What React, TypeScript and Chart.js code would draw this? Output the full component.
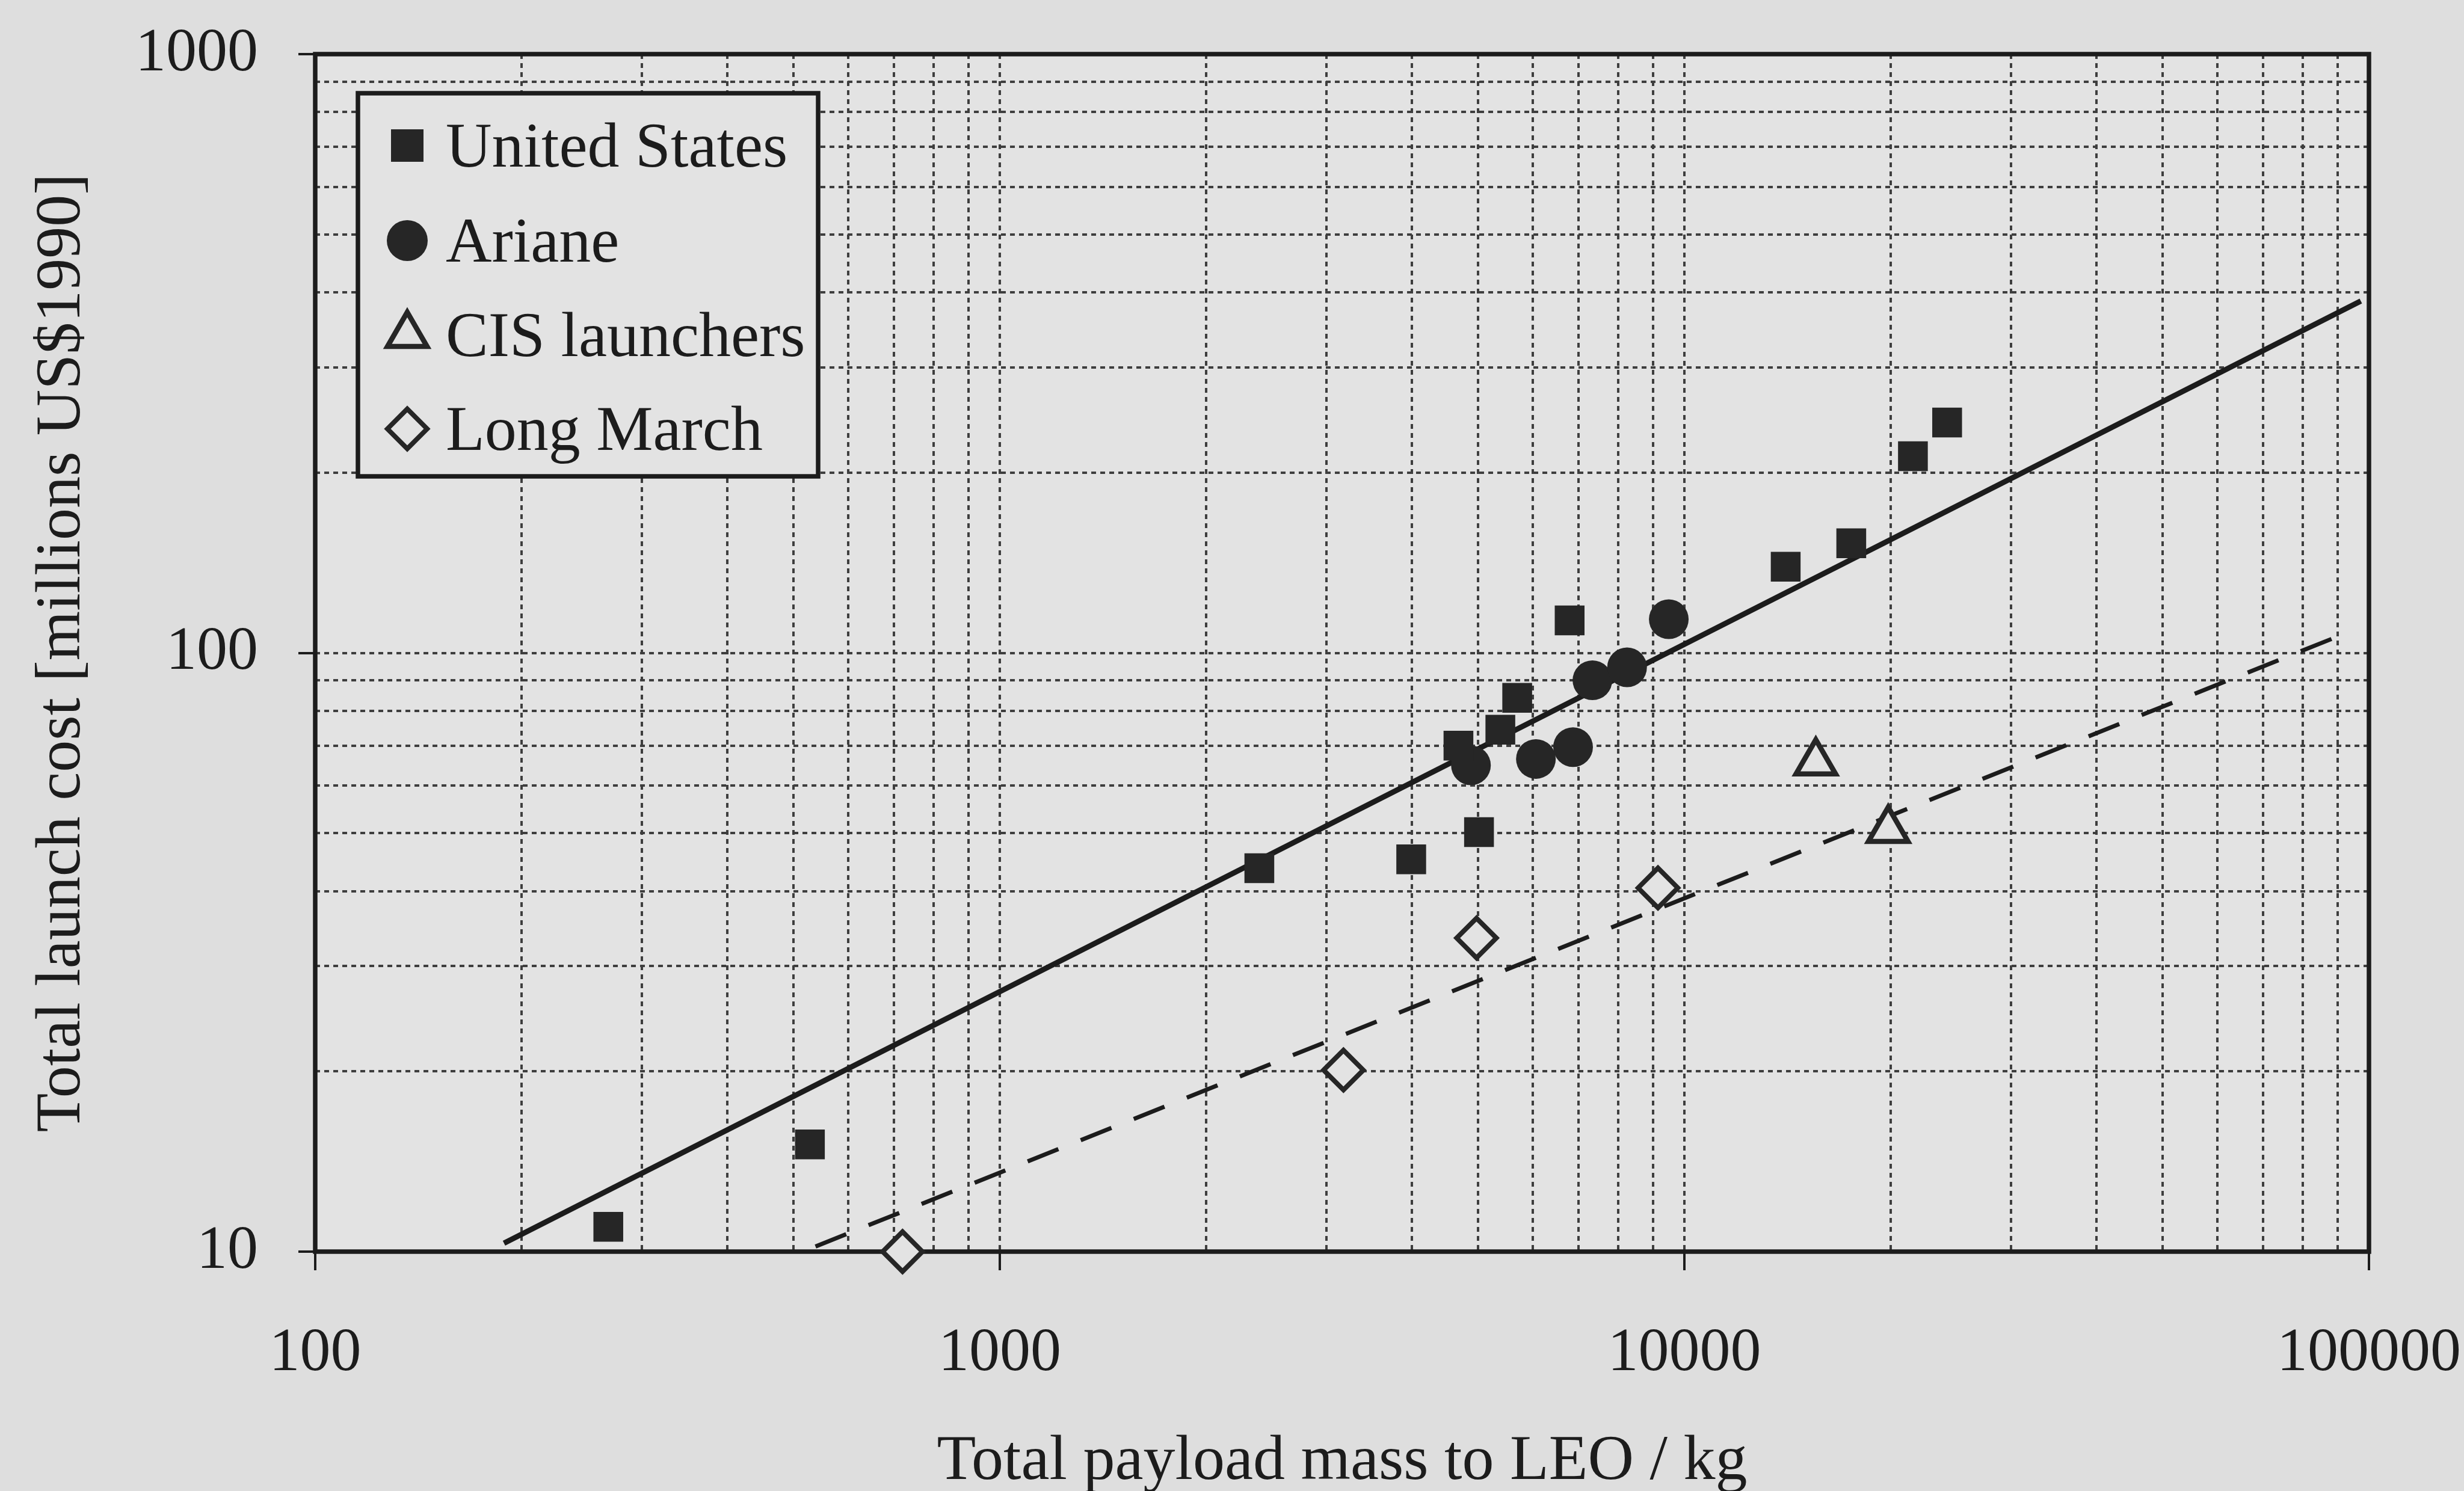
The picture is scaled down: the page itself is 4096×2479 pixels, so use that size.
import React, { useEffect, useRef } from 'react';
import { Chart, registerables } from 'chart.js';

Chart.register(...registerables);

const W = 4096;
const H = 2479;

// ---- data ----
const US_MASS = [268, 528, 2394, 3990, 4677, 5012, 5385, 5699, 6798, 14060, 17530, 21570, 24200];
const US_COST = [11.0, 15.1, 43.7, 45.2, 70.0, 50.2, 74.4, 84.1, 113.3, 139.3, 152.4, 213, 242.5];
const ARIANE_MASS = [4878, 6069, 6877, 7340, 8247, 9489];
const ARIANE_COST = [64.9, 66.5, 69.6, 90.0, 94.6, 113.8];
const CIS_MASS = [15560, 19850];
const CIS_COST = [65.6, 50.6];
const LM_MASS = [721, 3177, 4970, 9150];
const LM_COST = [10.0, 20.1, 33.4, 40.5];
const FIT_WEST_MASS = [188.7, 97300];
const FIT_WEST_COST = [10.33, 387];
const FIT_EAST_MASS = [538, 92800];
const FIT_EAST_COST = [10.2, 108];

const SERIES_LABELS = ['United States', 'Ariane', 'CIS launchers', 'Long March'];
const X_DECADES = [100, 1000, 10000, 100000];
const X_TICK_LABELS = ['100', '1000', '10000', '100000'];
const Y_DECADES = [10, 100, 1000];
const Y_TICK_LABELS = ['10', '100', '1000'];
const X_TITLE = 'Total payload mass to LEO / kg';
const Y_TITLE = 'Total launch cost [millions US$1990]';

// ---- style ----
const PAGE_BG = '#dedede';
const PLOT_BG = '#e3e3e3';
const INK = '#1c1c1c';
const MARK = '#262626';
const GRID = '#3e3e3e';
const FONT = "'Liberation Serif', 'Times New Roman', serif";

const LEFT = 524;
const RIGHT = 3938;
const TOP = 90;
const BOTTOM = 2081;

const pts = (xs: number[], ys: number[]) => xs.map((x, i) => ({ x, y: ys[i] }));

const gridValues = (decades: number[]) => {
  const out: number[] = [];
  for (let i = 0; i < decades.length - 1; i++) {
    for (let m = 1; m <= 9; m++) out.push(decades[i] * m);
  }
  out.push(decades[decades.length - 1]);
  return out;
};
const X_GRID = gridValues(X_DECADES);
const Y_GRID = gridValues(Y_DECADES);

const labelFor = (v: number, decades: number[], labels: string[]) => {
  const i = decades.findIndex((d) => Math.abs(d - v) / d < 1e-6);
  return i >= 0 ? labels[i] : '';
};

function drawMarker(ctx: CanvasRenderingContext2D, kind: string, x: number, y: number) {
  ctx.save();
  ctx.beginPath();
  if (kind === 'rect') {
    const s = 27;
    ctx.fillStyle = MARK;
    ctx.fillRect(x - s, y - s, 2 * s, 2 * s);
  } else if (kind === 'circle') {
    ctx.fillStyle = MARK;
    ctx.arc(x, y, 34, 0, Math.PI * 2);
    ctx.fill();
  } else if (kind === 'triangle') {
    const r = 38;
    ctx.moveTo(x, y - r);
    ctx.lineTo(x + r * Math.sin((2 * Math.PI) / 3), y - r * Math.cos((2 * Math.PI) / 3));
    ctx.lineTo(x + r * Math.sin((4 * Math.PI) / 3), y - r * Math.cos((4 * Math.PI) / 3));
    ctx.closePath();
    ctx.lineWidth = 8.5;
    ctx.lineJoin = 'miter';
    ctx.strokeStyle = MARK;
    ctx.stroke();
  } else {
    const r = 33;
    ctx.moveTo(x - r, y);
    ctx.lineTo(x, y - r);
    ctx.lineTo(x + r, y);
    ctx.lineTo(x, y + r);
    ctx.closePath();
    ctx.lineWidth = 8;
    ctx.strokeStyle = MARK;
    ctx.stroke();
  }
  ctx.restore();
}

const framePlugin = {
  id: 'frameAndLegend',
  beforeDraw(chart: any) {
    const { ctx, chartArea: a } = chart;
    ctx.save();
    ctx.fillStyle = PAGE_BG;
    ctx.fillRect(0, 0, chart.width, chart.height);
    ctx.fillStyle = PLOT_BG;
    ctx.fillRect(a.left, a.top, a.right - a.left, a.bottom - a.top);
    ctx.restore();
  },
  beforeDatasetsDraw(chart: any) {
    const { ctx, chartArea: a } = chart;
    ctx.save();
    ctx.strokeStyle = INK;
    ctx.lineWidth = 7.5;
    ctx.strokeRect(a.left, a.top, a.right - a.left, a.bottom - a.top);
    ctx.restore();
  },
  afterDraw(chart: any) {
    const { ctx } = chart;
    const bx = 595, by = 155, bw = 765, bh = 637;
    ctx.save();
    ctx.fillStyle = PLOT_BG;
    ctx.fillRect(bx, by, bw, bh);
    ctx.strokeStyle = INK;
    ctx.lineWidth = 7.5;
    ctx.strokeRect(bx, by, bw, bh);
    const kinds = ['rect', 'circle', 'triangle', 'rectRot'];
    const rows = [242, 400, 557, 713];
    ctx.font = `106px ${FONT}`;
    ctx.fillStyle = INK;
    ctx.textAlign = 'left';
    ctx.textBaseline = 'alphabetic';
    SERIES_LABELS.forEach((label, i) => {
      drawMarker(ctx, kinds[i], 677, rows[i]);
      ctx.fillText(label, 741, rows[i] + 35);
    });
    ctx.restore();
  },
};

const zeroPadding = (s: any) => {
  s.paddingTop = 0;
  s.paddingBottom = 0;
  s.paddingLeft = 0;
  s.paddingRight = 0;
};

export default function App() {
  const ref = useRef<HTMLCanvasElement | null>(null);

  useEffect(() => {
    if (!ref.current) return;
    const tickFont = { family: FONT, size: 102 };
    const titleFont = { family: FONT, size: 106, lineHeight: 0.8 };

    const chart = new Chart(ref.current, {
      type: 'scatter',
      data: {
        datasets: [
          {
            label: 'fit west',
            data: pts(FIT_WEST_MASS, FIT_WEST_COST),
            showLine: true,
            pointRadius: 0,
            borderColor: INK,
            borderWidth: 9,
            fill: false,
            order: 10,
          },
          {
            label: 'fit east',
            data: pts(FIT_EAST_MASS, FIT_EAST_COST),
            showLine: true,
            pointRadius: 0,
            borderColor: INK,
            borderWidth: 7,
            borderDash: [55, 40],
            fill: false,
            order: 10,
          },
          {
            label: SERIES_LABELS[0],
            data: pts(US_MASS, US_COST),
            pointStyle: 'rect',
            pointRadius: 35,
            backgroundColor: MARK,
            borderWidth: 0,
            clip: false,
            order: 1,
          },
          {
            label: SERIES_LABELS[1],
            data: pts(ARIANE_MASS, ARIANE_COST),
            pointStyle: 'circle',
            pointRadius: 33,
            backgroundColor: MARK,
            borderWidth: 0,
            clip: false,
            order: 1,
          },
          {
            label: SERIES_LABELS[2],
            data: pts(CIS_MASS, CIS_COST),
            pointStyle: 'triangle',
            pointRadius: 38,
            backgroundColor: PLOT_BG,
            borderColor: MARK,
            borderWidth: 8.5,
            clip: false,
            order: 1,
          },
          {
            label: SERIES_LABELS[3],
            data: pts(LM_MASS, LM_COST),
            pointStyle: 'rectRot',
            pointRadius: 33,
            backgroundColor: PLOT_BG,
            borderColor: MARK,
            borderWidth: 8,
            clip: false,
            order: 1,
          },
        ] as any,
      },
      options: {
        responsive: false,
        animation: false,
        devicePixelRatio: 1,
        layout: { padding: { top: TOP, right: W - RIGHT, bottom: 0, left: 0 } },
        plugins: {
          legend: { display: false },
          tooltip: { enabled: false },
        },
        scales: {
          x: {
            type: 'logarithmic',
            min: 100,
            max: 100000,
            afterFit: (s: any) => {
              s.height = H - BOTTOM;
              zeroPadding(s);
            },
            afterBuildTicks: (s: any) => {
              s.ticks = X_GRID.map((v) => ({ value: v }));
            },
            grid: {
              color: GRID,
              lineWidth: 4,
              drawTicks: true,
              tickLength: 31,
              tickWidth: 4,
              tickBorderDash: [],
              tickColor: (c: any) =>
                c.tick && labelFor(c.tick.value, X_DECADES, X_TICK_LABELS) ? INK : 'rgba(0,0,0,0)',
            },
            border: { display: false, dash: [8, 7] },
            ticks: {
              autoSkip: false,
              maxRotation: 0,
              minRotation: 0,
              padding: 78,
              color: INK,
              font: tickFont,
              callback: (v: any) => labelFor(Number(v), X_DECADES, X_TICK_LABELS),
            },
            title: {
              display: true,
              text: X_TITLE,
              color: INK,
              font: titleFont,
              padding: { top: 0, bottom: 5 },
            },
          },
          y: {
            type: 'logarithmic',
            min: 10,
            max: 1000,
            afterFit: (s: any) => {
              s.width = LEFT;
              zeroPadding(s);
            },
            afterBuildTicks: (s: any) => {
              s.ticks = Y_GRID.map((v) => ({ value: v }));
            },
            grid: {
              color: GRID,
              lineWidth: 4,
              drawTicks: true,
              tickLength: 28,
              tickWidth: 4,
              tickBorderDash: [],
              tickColor: (c: any) =>
                c.tick && labelFor(c.tick.value, Y_DECADES, Y_TICK_LABELS) ? INK : 'rgba(0,0,0,0)',
            },
            border: { display: false, dash: [8, 7] },
            ticks: {
              autoSkip: false,
              padding: 67,
              color: INK,
              font: tickFont,
              callback: (v: any) => labelFor(Number(v), Y_DECADES, Y_TICK_LABELS),
            },
            title: {
              display: true,
              text: Y_TITLE,
              color: INK,
              font: titleFont,
              padding: { top: 62, bottom: 0 },
            },
          },
        },
      } as any,
      plugins: [framePlugin],
    });
    return () => chart.destroy();
  }, []);

  return (
    <div
      style={{
        position: 'fixed',
        left: 0,
        top: 0,
        width: W,
        height: H,
        background: PAGE_BG,
        overflow: 'hidden',
      }}
    >
      <canvas ref={ref} width={W} height={H} style={{ display: 'block', width: W, height: H }} />
    </div>
  );
}
